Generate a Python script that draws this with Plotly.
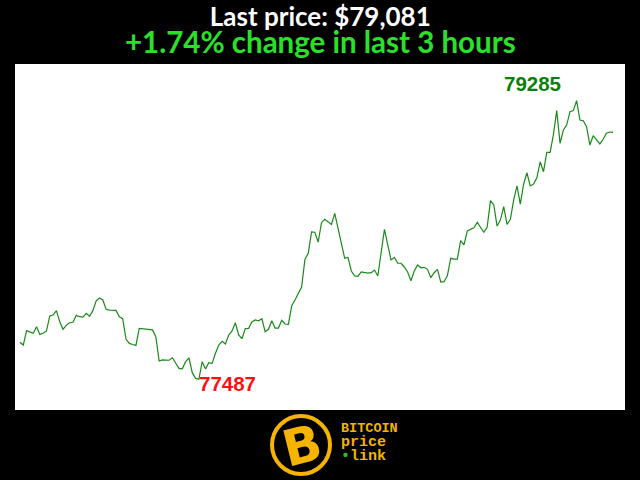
import plotly.graph_objects as go

# ---- data (BTC price, one sample per minute over the last 3 hours) ----
minutes = list(range(180))
prices = [
    77726, 77708, 77801, 77794, 77784, 77826, 77777, 77784, 77799, 77896,
    77902, 77930, 77859, 77810, 77837, 77852, 77855, 77900, 77891, 77889,
    77913, 77894, 77930, 77994, 78012, 77999, 77939, 77934, 77933, 77932,
    77891, 77878, 77747, 77719, 77712, 77706, 77816, 77813, 77810, 77808,
    77806, 77762, 77605, 77612, 77611, 77610, 77626, 77590, 77558, 77555,
    77601, 77626, 77530, 77493, 77487, 77601, 77553, 77594, 77590, 77655,
    77708, 77732, 77715, 77773, 77799, 77852, 77773, 77749, 77814, 77816,
    77857, 77870, 77865, 77878, 77794, 77810, 77865, 77818, 77818, 77868,
    77844, 77842, 77960, 77999, 78038, 78083, 78261, 78300, 78438, 78436,
    78373, 78498, 78520, 78502, 78487, 78558, 78462, 78365, 78268, 78274,
    78186, 78154, 78152, 78180, 78175, 78173, 78175, 78192, 78154, 78309,
    78455, 78354, 78257, 78274, 78236, 78236, 78212, 78180, 78123, 78186,
    78225, 78207, 78210, 78197, 78143, 78175, 78197, 78115, 78117, 78156,
    78268, 78263, 78263, 78382, 78354, 78444, 78457, 78465, 78500, 78468,
    78436, 78468, 78640, 78612, 78476, 78515, 78601, 78487, 78520, 78644,
    78736, 78618, 78746, 78820, 78735, 78747, 78788, 78891, 78827, 78952,
    78952, 79068, 79221, 79010, 79096, 79128, 79214, 79221, 79285, 79160,
    79156, 79117, 78999, 79059, 79036, 79006, 79036, 79075, 79083, 79081,
]
last_price_text = "Last price: $79,081"
change_text = "+1.74% change in last 3 hours"
logo_lines = ["BITCOIN", "price", "link"]

# ---- helpers for pixel -> paper placement ----
L, R, T, B = 15, 625, 64, 410
def px(x):
    return (x - L) / (R - L)
def py(y):
    return (B - y) / (B - T)

hi = max(prices)
lo = min(prices)
i_hi = prices.index(hi)
i_lo = prices.index(lo)

fig = go.Figure()
fig.add_trace(go.Scatter(
    x=minutes, y=prices, mode="lines",
    line=dict(color="#1a8a1a", width=1.2),
    hoverinfo="skip", showlegend=False,
))

gold = "#f4b400"
title_html = (
    f'<span style="font-size:26px;color:white">{last_price_text}</span><br>'
    f'<span style="font-size:29.5px;color:#2be02b">{change_text}</span>'
)
logo_html = (
    f'<span style="font-size:13.5px">{logo_lines[0]}</span><br>'
    f'<span style="font-size:15px">{logo_lines[1]}</span><br>'
    f'<span style="font-size:15px"><span style="color:#22c022">•</span>{logo_lines[2]}</span>'
)
annotations = [
    dict(text=title_html, xref="paper", yref="paper", x=0.5, y=py(29.5),
         xanchor="center", yanchor="middle", showarrow=False, align="center",
         font=dict(family="Lato", size=21, color="white", weight="bold")),
    dict(text=str(hi), x=i_hi, y=hi, xref="x", yref="y", showarrow=False,
         xanchor="center", yanchor="middle", xshift=-44, yshift=17,
         font=dict(family="Liberation Sans", size=20.5, color="#0a800a", weight="bold")),
    dict(text=str(lo), x=i_lo, y=lo, xref="x", yref="y", showarrow=False,
         xanchor="center", yanchor="middle", xshift=29, yshift=-4,
         font=dict(family="Liberation Sans", size=20.5, color="#ff1010", weight="bold")),
    # logo
    dict(text="B", xref="paper", yref="paper", x=px(302), y=py(446),
         xanchor="center", yanchor="middle", showarrow=False, textangle=-14,
         font=dict(family="DejaVu Sans", size=50, color=gold, weight="bold")),
    dict(text=logo_html, xref="paper", yref="paper", x=px(339), y=py(443),
         xanchor="left", yanchor="middle", showarrow=False, align="left",
         font=dict(family="Liberation Mono", size=10.8, color=gold, weight="bold")),
]

cx, cy, r = 301, 445, 29
shapes = [
    dict(type="circle", xref="paper", yref="paper",
         x0=px(cx - r), x1=px(cx + r), y0=py(cy + r), y1=py(cy - r),
         line=dict(color=gold, width=4), fillcolor="black", layer="above"),
]

fig.update_layout(
    width=640, height=480,
    margin=dict(l=L, r=640 - R, t=T, b=480 - B, pad=0),
    paper_bgcolor="black", plot_bgcolor="white",
    xaxis=dict(visible=False, range=[-1.5, 182.6], fixedrange=True),
    yaxis=dict(visible=False, range=[77289, 79522], fixedrange=True),
    annotations=annotations, shapes=shapes,
    showlegend=False,
)

fig.write_html(
    "out.html",
    config={"displayModeBar": False},
    post_script="document.body.style.margin='0';document.body.style.background='black';",
)
